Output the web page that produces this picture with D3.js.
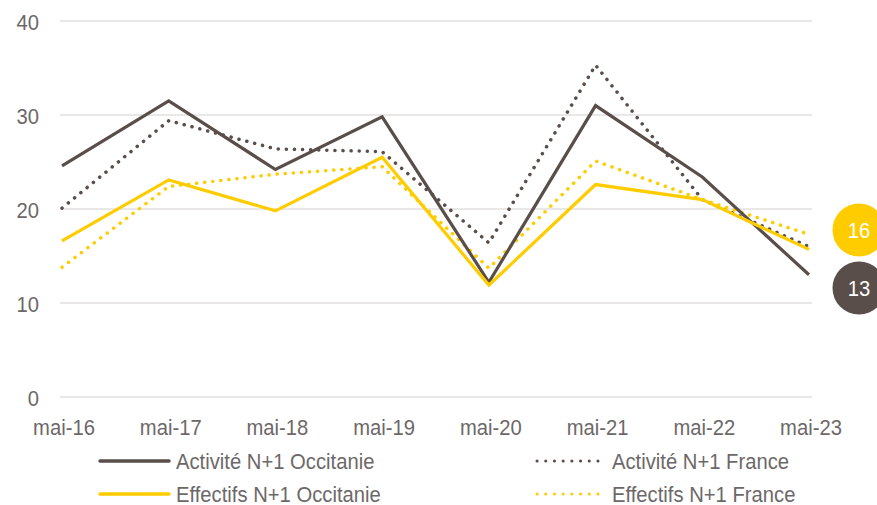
<!DOCTYPE html>
<html>
<head>
<meta charset="utf-8">
<script src="https://cdn.jsdelivr.net/npm/d3@7"></script>
<style>
  body { margin: 0; background: #fff; }
  text { font-family: "Liberation Sans", Arial, sans-serif; }
</style>
</head>
<body>
<div id="chart"></div>
<script>
// Data
const months = ["mai-16", "mai-17", "mai-18", "mai-19", "mai-20", "mai-21", "mai-22", "mai-23"];
const activiteOccitanie = [24.6, 31.5, 24.2, 29.8, 12.2, 31.0, 23.4, 13.0];
const activiteFrance = [20.1, 29.4, 26.4, 26.1, 16.4, 35.3, 21.0, 16.0];
const effectifsOccitanie = [16.6, 23.1, 19.8, 25.5, 11.9, 22.6, 21.0, 15.7];
const effectifsFrance = [13.8, 22.4, 23.7, 24.5, 13.7, 25.1, 21.0, 17.3];
const yTicks = [0, 10, 20, 30, 40];
const endLabels = [{ value: 16, text: "16" }, { value: 13, text: "13" }];

const brown = "#5a4e4a";
const yellow = "#ffcc00";
const textColor = "#6d6868";
const fontSize = "22px";
const squeeze = 0.92; // reference font is a bit condensed

const W = 877, H = 505;
const svg = d3.select("#chart")
  .append("svg")
  .attr("width", W)
  .attr("height", H);

// Scales
const x = d3.scalePoint()
  .domain(months)
  .range([62, 809]);

const y = d3.scaleLinear()
  .domain([0, 40])
  .range([397, 21]);

// Grid lines
svg.selectAll("line.grid")
  .data(yTicks)
  .enter()
  .append("line")
  .attr("class", "grid")
  .attr("x1", 60)
  .attr("x2", 812)
  .attr("y1", d => y(d))
  .attr("y2", d => y(d))
  .style("stroke", "#e3dfdf")
  .style("stroke-width", 1.5);

// Y labels
svg.selectAll("text.ytick")
  .data(yTicks)
  .enter()
  .append("text")
  .attr("class", "ytick")
  .attr("transform", d => `translate(39,${y(d) + 8.5}) scale(${squeeze},1)`)
  .attr("text-anchor", "end")
  .style("font-size", fontSize)
  .style("fill", textColor)
  .text(d => d);

// X labels
svg.selectAll("text.xtick")
  .data(months)
  .enter()
  .append("text")
  .attr("class", "xtick")
  .attr("transform", d => `translate(${x(d) + 2},435) scale(${squeeze},1)`)
  .attr("text-anchor", "middle")
  .style("font-size", fontSize)
  .style("fill", textColor)
  .text(d => d);

// Lines
const series = [
  { name: "Activité N+1 France", values: activiteFrance, color: brown, dotted: true },
  { name: "Effectifs N+1 France", values: effectifsFrance, color: yellow, dotted: true },
  { name: "Activité N+1 Occitanie", values: activiteOccitanie, color: brown, dotted: false },
  { name: "Effectifs N+1 Occitanie", values: effectifsOccitanie, color: yellow, dotted: false }
];

const line = d3.line()
  .x((d, i) => x(months[i]))
  .y(d => y(d));

series.forEach(s => {
  svg.append("path")
    .datum(s.values)
    .attr("d", line)
    .style("fill", "none")
    .style("stroke", s.color)
    .style("stroke-width", s.dotted ? 3.5 : 3.2)
    .style("stroke-linecap", s.dotted ? "round" : "butt")
    .style("stroke-linejoin", "miter")
    .style("stroke-dasharray", s.dotted ? "0.1,8" : null);
});

// End labels
const endColors = [yellow, brown];
const endY = [230, 288];
endLabels.forEach((d, i) => {
  svg.append("circle")
    .attr("cx", 859)
    .attr("cy", endY[i])
    .attr("r", 26.5)
    .style("fill", endColors[i]);
  svg.append("text")
    .attr("transform", `translate(859,${endY[i] + 8}) scale(${squeeze},1)`)
    .attr("text-anchor", "middle")
    .style("font-size", fontSize)
    .style("fill", "#fff")
    .text(d.text);
});

// Legend
const legendItems = [
  { name: "Activité N+1 Occitanie", color: brown, dotted: false, x: 100, y: 461 },
  { name: "Activité N+1 France", color: brown, dotted: true, x: 536, y: 461 },
  { name: "Effectifs N+1 Occitanie", color: yellow, dotted: false, x: 100, y: 494 },
  { name: "Effectifs N+1 France", color: yellow, dotted: true, x: 536, y: 494 }
];

const legend = svg.selectAll("g.legend")
  .data(legendItems)
  .enter()
  .append("g")
  .attr("class", "legend")
  .attr("transform", d => `translate(${d.x},${d.y})`);

legend.append("line")
  .attr("x1", d => d.dotted ? 1 : 0)
  .attr("x2", d => d.dotted ? 70 : 69)
  .attr("y1", 0)
  .attr("y2", 0)
  .style("stroke", d => d.color)
  .style("stroke-width", d => d.dotted ? 3 : 3.5)
  .style("stroke-linecap", "round")
  .style("stroke-dasharray", d => d.dotted ? "0.1,8.6" : null);

legend.append("text")
  .attr("transform", d => `translate(${d.dotted ? 76 : 76},8) scale(${squeeze},1)`)
  .style("font-size", fontSize)
  .style("fill", textColor)
  .text(d => d.name);
</script>
</body>
</html>
